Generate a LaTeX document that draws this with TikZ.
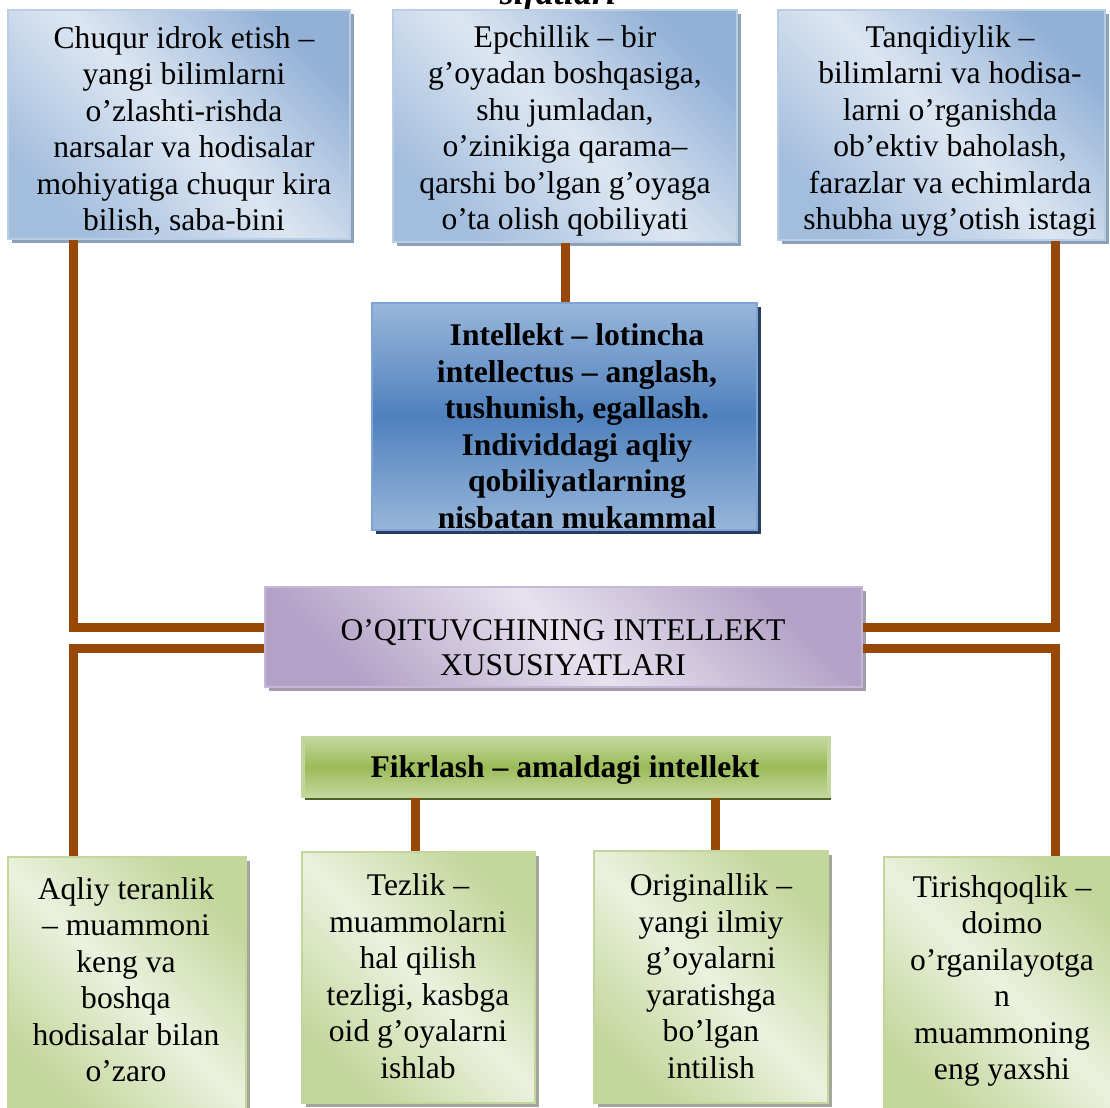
\documentclass[tikz,border=0pt]{standalone}
\usepackage{fontspec}
\setmainfont{Liberation Serif}
\usetikzlibrary{shadows,calc}
\definecolor{conncol}{HTML}{984806}
\definecolor{bluedark}{HTML}{93B1D6}
\definecolor{bluelight}{HTML}{DCE6F2}
\definecolor{bluemid}{HTML}{A3BDDD}
\definecolor{blueedge}{HTML}{B9CDE5}
\definecolor{blueshadow}{HTML}{8CA0BA}
\definecolor{intop}{HTML}{98B6DA}
\definecolor{inmid}{HTML}{4F81BD}
\definecolor{inedge}{HTML}{7FA3D2}
\definecolor{inshadow}{HTML}{243F60}
\definecolor{purdark}{HTML}{B3A2C7}
\definecolor{purlight}{HTML}{E7E2EE}
\definecolor{puredge}{HTML}{C5B8D6}
\definecolor{purshadow}{HTML}{A49BAE}
\definecolor{grlight}{HTML}{EBF1DE}
\definecolor{grdark}{HTML}{C3D69B}
\definecolor{grmid}{HTML}{9BBB59}
\definecolor{grshadow}{HTML}{A3A79A}
\definecolor{grdeep}{HTML}{4F6228}
\tikzset{
  conn/.style={draw=conncol, line width=4.5pt},
  boxbase/.style={rectangle, inner sep=0pt, line width=0.8pt},
  bluebox/.style={boxbase, draw=blueedge, top color=bluedark, bottom color=bluemid, middle color=bluelight, shading angle=-45,
     drop shadow={shadow xshift=2pt, shadow yshift=-2pt, fill=blueshadow, opacity=1}},
  intelbox/.style={boxbase, draw=inedge, top color=intop, bottom color=intop, middle color=inmid,
     drop shadow={shadow xshift=2pt, shadow yshift=-2pt, fill=inshadow, opacity=1}},
  purbox/.style={boxbase, draw=puredge, top color=purdark, bottom color=purdark, middle color=purlight, shading angle=-45,
     drop shadow={shadow xshift=2pt, shadow yshift=-2pt, fill=purshadow, opacity=1}},
  fikbox/.style={boxbase, draw=grdark, line width=2pt, top color=grdark, bottom color=grdark, middle color=grmid,
     drop shadow={shadow xshift=1pt, shadow yshift=-2pt, fill=grdeep, opacity=1}},
  grbox/.style={boxbase, draw=grdark, top color=grdark, bottom color=grdark, middle color=grlight, shading angle=-45,
     drop shadow={shadow xshift=2pt, shadow yshift=-2pt, fill=grshadow, opacity=1}},
  txt/.style={inner sep=0pt, align=center, font=\fontsize{15.8}{18.25}\selectfont},
  btxt/.style={txt, font=\fontsize{15.8}{18.25}\selectfont\bfseries},
}
\begin{document}
\begin{tikzpicture}[x=0.5pt,y=-0.5pt]
\useasboundingbox (0,0) rectangle (1110,1108);
\fill[white] (0,0) rectangle (1110,1108);

% clipped title at the very top
\node[inner sep=0pt, anchor=base, font=\fontsize{18}{20}\selectfont\bfseries\itshape] (title) at (558,4) {sifatlari};

% boxes
\node[bluebox, minimum width=171pt, minimum height=114.5pt] (tl) at (179,124.5) {};
\node[bluebox, minimum width=172pt, minimum height=116pt] (tm) at (565,126) {};
\node[bluebox, minimum width=163.5pt, minimum height=115pt] (tr) at (941.5,125) {};
\node[intelbox, minimum width=192.5pt, minimum height=113.5pt] (intel) at (564.5,416.5) {};
\node[purbox, minimum width=298.5pt, minimum height=50pt] (ctr) at (563.5,637) {};
\node[fikbox, minimum width=263pt, minimum height=29pt] (fik) at (566,767) {};
\node[grbox, minimum width=119pt, minimum height=129pt] (b1) at (127,986) {};
\node[grbox, minimum width=116.5pt, minimum height=125.5pt] (b2) at (418.5,977.5) {};
\node[grbox, minimum width=117pt, minimum height=126pt] (b3) at (711,977) {};
\node[grbox, minimum width=118pt, minimum height=129pt] (b4) at (1002,986) {};

% texts
\node[txt] (ttl) at (184,131) {Chuqur idrok etish –\\yangi bilimlarni\\o’zlashti-rishda\\narsalar va hodisalar\\mohiyatiga chuqur kira\\bilish, saba-bini};
\node[txt] (ttm) at (565,131) {Epchillik – bir\\g’oyadan boshqasiga,\\shu jumladan,\\o’zinikiga qarama–\\qarshi bo’lgan g’oyaga\\o’ta olish qobiliyati};
\node[txt] (ttr) at (950,131) {Tanqidiylik –\\bilimlarni va hodisa-\\larni o’rganishda\\ob’ektiv baholash,\\farazlar va echimlarda\\shubha uyg’otish istagi};
\node[btxt] (tintel) at (577,426) {Intellekt – lotincha\\intellectus – anglash,\\tushunish, egallash.\\Individdagi aqliy\\qobiliyatlarning\\nisbatan mukammal};
\node[txt, font=\fontsize{15.8}{17.5}\selectfont] (tctr) at (563,647.5) {O’QITUVCHINING INTELLEKT\\XUSUSIYATLARI};
\node[btxt] (tfik) at (565,770) {Fikrlash – amaldagi intellekt};
\node[txt] (tb1) at (126,979.5) {Aqliy teranlik\\– muammoni\\keng va\\boshqa\\hodisalar bilan\\o’zaro};
\node[txt] (tb2) at (418,976) {Tezlik –\\muammolarni\\hal qilish\\tezligi, kasbga\\oid g’oyalarni\\ishlab};
\node[txt] (tb3) at (711,976) {Originallik –\\yangi ilmiy\\g’oyalarni\\yaratishga\\bo’lgan\\intilish};
\node[txt] (tb4) at (1002,981) {Tirishqoqlik –\\doimo\\o’rganilayotga\\n\\muammoning\\eng yaxshi};

% connector guide coordinates
\coordinate (xl) at (73,0);
\coordinate (xr) at (1055,0);
\coordinate (yu) at (0,627);
\coordinate (yd) at (0,648);
\coordinate (xm) at (565,0);
\coordinate (xf1) at (415,0);
\coordinate (xf2) at (715,0);

% connectors
\draw[conn] (tl.south -| xl) |- (ctr.west |- yu);
\draw[conn] (tr.south -| xr) |- (ctr.east |- yu);
\draw[conn] (ctr.west |- yd) -| (b1.north -| xl);
\draw[conn] (ctr.east |- yd) -| (b4.north -| xr);
\draw[conn] (tm.south -| xm) -- (intel.north -| xm);
\draw[conn] (fik.south -| xf1) -- (b2.north -| xf1);
\draw[conn] (fik.south -| xf2) -- (b3.north -| xf2);
\end{tikzpicture}
\end{document}
